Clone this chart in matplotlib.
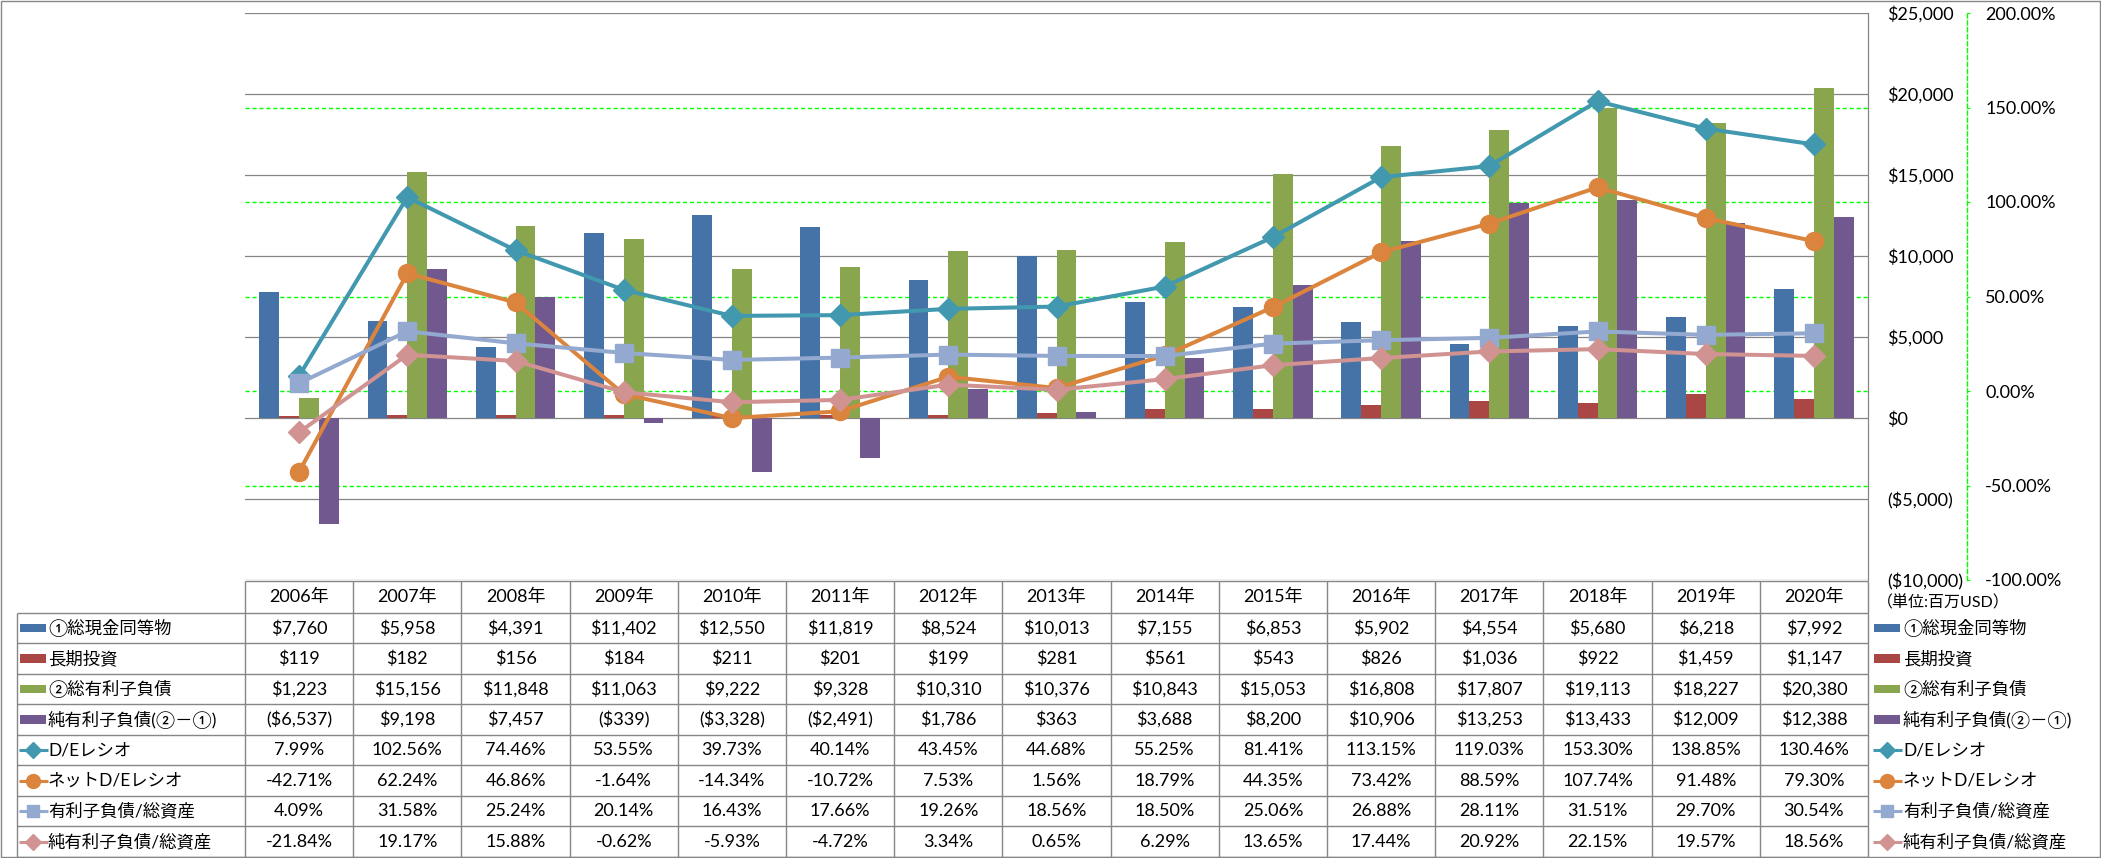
import matplotlib
matplotlib.use("Agg")
import matplotlib.pyplot as plt
import matplotlib.transforms as mtransforms
from matplotlib.patches import Rectangle
import numpy as np

plt.rcParams['font.family'] = ['Lato', 'Noto Sans CJK JP', 'DejaVu Sans']

years = ["2006年", "2007年", "2008年", "2009年", "2010年", "2011年", "2012年", "2013年",
         "2014年", "2015年", "2016年", "2017年", "2018年", "2019年", "2020年"]

cash = [7760, 5958, 4391, 11402, 12550, 11819, 8524, 10013, 7155, 6853, 5902, 4554, 5680, 6218, 7992]
lt_invest = [119, 182, 156, 184, 211, 201, 199, 281, 561, 543, 826, 1036, 922, 1459, 1147]
debt = [1223, 15156, 11848, 11063, 9222, 9328, 10310, 10376, 10843, 15053, 16808, 17807, 19113, 18227, 20380]
net_debt = [-6537, 9198, 7457, -339, -3328, -2491, 1786, 363, 3688, 8200, 10906, 13253, 13433, 12009, 12388]

de_ratio = [7.99, 102.56, 74.46, 53.55, 39.73, 40.14, 43.45, 44.68, 55.25, 81.41, 113.15, 119.03, 153.30, 138.85, 130.46]
net_de_ratio = [-42.71, 62.24, 46.86, -1.64, -14.34, -10.72, 7.53, 1.56, 18.79, 44.35, 73.42, 88.59, 107.74, 91.48, 79.30]
debt_assets = [4.09, 31.58, 25.24, 20.14, 16.43, 17.66, 19.26, 18.56, 18.50, 25.06, 26.88, 28.11, 31.51, 29.70, 30.54]
net_debt_assets = [-21.84, 19.17, 15.88, -0.62, -5.93, -4.72, 3.34, 0.65, 6.29, 13.65, 17.44, 20.92, 22.15, 19.57, 18.56]

bar_series = [
    ("①総現金同等物", cash, "#4572A7"),
    ("長期投資", lt_invest, "#AA4643"),
    ("②総有利子負債", debt, "#89A54E"),
    ("純有利子負債(②－①)", net_debt, "#71588F"),
]
line_series = [
    ("D/Eレシオ", de_ratio, "#4198AF", "D", 11, 8),
    ("ネットD/Eレシオ", net_de_ratio, "#DB843D", "o", 13, 10),
    ("有利子負債/総資産", debt_assets, "#93A9CF", "s", 13, 9),
    ("純有利子負債/総資産", net_debt_assets, "#D19392", "D", 11, 8),
]

money_ticks = [-10000, -5000, 0, 5000, 10000, 15000, 20000, 25000]
pct_ticks = [-100, -50, 0, 50, 100, 150, 200]

GRAY = "#868686"
GREEN = "#00FF00"


def money(v):
    return f"${v:,.0f}" if v >= 0 else f"(${-v:,.0f})"


def pct(v):
    return f"{v:.2f}%"


W, H = 2101, 858
fig = plt.figure(figsize=(W / 100, H / 100), dpi=100)
fig.patch.set_facecolor("white")

# plot area in pixels
PL, PR, PT, PB = 245, 1868, 13, 580
ax = fig.add_axes([PL / W, 1 - PB / H, (PR - PL) / W, (PB - PT) / H])
ax2 = ax.twinx()

n = len(years)
x = np.arange(n)
w = 0.183
for k, (name, vals, color) in enumerate(bar_series):
    ax.bar(x + (k - 1.5) * w, vals, w, color=color, zorder=2)

ax.set_xlim(-0.5, n - 0.5)
ax.set_ylim(-10000, 25000)
ax.set_xticks([])
ax.set_yticks(money_ticks)
ax.set_yticklabels([money(v) for v in money_ticks])
for lbl, v in zip(ax.get_yticklabels(), money_ticks):
    lbl.set_color("red" if v < 0 else "black")
ax.yaxis.tick_right()
ax.tick_params(axis="y", length=0, pad=14, labelsize=13)
ax.grid(axis="y", color=GRAY, lw=0.9)
ax.set_axisbelow(True)
for s in ["left", "top", "bottom"]:
    ax.spines[s].set_visible(False)
ax.spines["right"].set_color(GRAY)
ax.spines["right"].set_linewidth(0.9)

trans = mtransforms.blended_transform_factory(ax.transAxes, ax2.transData)
for v in pct_ticks[1:-1]:
    ax.plot([0, 1], [v, v], transform=trans, color=GREEN, lw=1, ls=(0, (3, 2)), zorder=0.6)

for name, vals, color, mk, ms, _ in line_series:
    ax2.plot(x, vals, color=color, lw=2.9, marker=mk, ms=ms, mec=color, mfc=color, zorder=3)

ax2.set_ylim(-100, 200)
ax2.set_yticks(pct_ticks)
ax2.set_yticklabels([pct(v) for v in pct_ticks])
for lbl, v in zip(ax2.get_yticklabels(), pct_ticks):
    lbl.set_color("red" if v < 0 else "black")
ax2.tick_params(axis="y", length=2, color=GREEN, pad=11, labelsize=13)
for s in ["left", "top", "bottom"]:
    ax2.spines[s].set_visible(False)
ax2.spines["right"].set_position(("axes", (1967 - PL) / (PR - PL)))
ax2.spines["right"].set_color(GREEN)
ax2.spines["right"].set_linestyle((0, (3, 2)))
ax2.spines["right"].set_linewidth(1)

# data table below the plot, in pixel coords
tx = fig.add_axes([0, 0, 1, 1])
tx.set_xlim(0, W)
tx.set_ylim(H, 0)
tx.axis("off")

LX = 16.7
hdr_top = 580.7
row_top = 612.7
rh = 30.54
colw = (PR - PL) / n
bottom = row_top + 8 * rh
lkw = dict(color=GRAY, lw=1.0, solid_capstyle="butt")

tx.plot([PL, PR], [hdr_top, hdr_top], **lkw)
for r in range(9):
    yy = row_top + r * rh
    tx.plot([LX, PR], [yy, yy], **lkw)
for i in range(n + 1):
    xv = PL + i * colw
    tx.plot([xv, xv], [hdr_top, bottom], **lkw)
tx.plot([LX, LX], [row_top, bottom], **lkw)

fs = 12.5
fs_num = 13
for i, yr in enumerate(years):
    tx.text(PL + (i + 0.5) * colw, (hdr_top + row_top) / 2, yr, ha="center", va="center", fontsize=fs_num)


def bar_key(xc, yc, color):
    tx.add_patch(Rectangle((xc - 13, yc - 4.2), 26, 8.4, color=color, lw=0))


def line_key(xc, yc, color, mk, ms):
    tx.plot([xc - 14.5, xc + 14.5], [yc, yc], color=color, lw=2.2, solid_capstyle="butt")
    tx.plot([xc], [yc], marker=mk, ms=ms, color=color)


rows = [(name, vals, money, color, None, None) for name, vals, color in bar_series]
rows += [(name, vals, pct, color, mk, kms) for name, vals, color, mk, ms, kms in line_series]

for r, (name, vals, fmt, color, mk, kms) in enumerate(rows):
    yc = row_top + (r + 0.5) * rh
    for i, v in enumerate(vals):
        tx.text(PL + (i + 0.5) * colw, yc, fmt(v), ha="center", va="center", fontsize=fs_num)
    for kx, tx0 in [(33, 48), (1887, 1903)]:
        if mk is None:
            bar_key(kx, yc, color)
        else:
            line_key(kx, yc, color, mk, kms)
        tx.text(tx0, yc, name, ha="left", va="center", fontsize=fs)

tx.text(1877, 603, "（単位:百万USD）", ha="left", va="center", fontsize=11.5)
tx.add_patch(Rectangle((1, 1), W - 2.5, 856, fill=False, ec=GRAY, lw=1))

fig.savefig("out.png", dpi=100)
